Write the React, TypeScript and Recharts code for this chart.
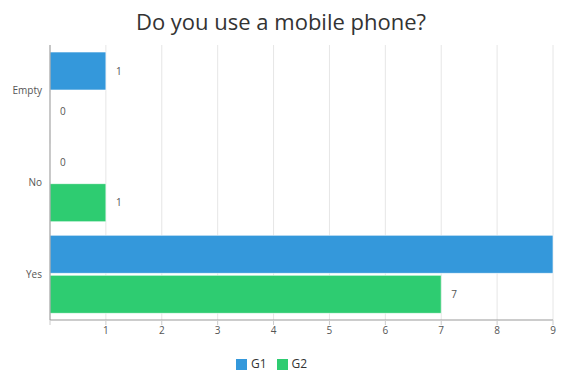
import { BarChart, Bar, XAxis, YAxis, CartesianGrid, Legend, LabelList } from 'recharts'

const categories = ['Empty', 'No', 'Yes']
const g1 = [1, 0, 9]
const g2 = [0, 1, 7]
const xTicks = [0, 1, 2, 3, 4, 5, 6, 7, 8, 9]

const data = categories.map((name, i) => ({ name, G1: g1[i], G2: g2[i] }))

const font = '"Open Sans", sans-serif'

export default function App() {
  return (
    <div style={{ position: 'absolute', left: 0, top: 0, width: 562, height: 372, background: '#fff', fontFamily: font }}>
      <div style={{ position: 'absolute', top: 6, left: 0, width: 562, textAlign: 'center', fontSize: 22, color: '#333' }}>
        Do you use a mobile phone?
      </div>
      <BarChart
        width={562} height={372}
        data={data}
        layout="vertical"
        margin={{ top: 45, right: 9, left: 0, bottom: 5 }}
        barSize={38} barGap={2}
      >
        <CartesianGrid horizontal={false} stroke="#e6e6e6" />
        <XAxis
          type="number" domain={[0, 9]} ticks={xTicks}
          tickFormatter={(v: number) => (v === 0 ? '' : String(v))}
          tick={{ fontSize: 10, fill: '#555', fontFamily: font }}
          stroke="#999" tickSize={5} tickLine={{ stroke: '#ccc' }}
        />
        <YAxis
          type="category" dataKey="name" width={50}
          tick={{ fontSize: 10, fill: '#555', fontFamily: font }}
          stroke="#999" tickLine={false}
        />
        <Legend
          verticalAlign="bottom" iconType="square" iconSize={11}
          formatter={(v: string) => <span style={{ color: '#333' }}>{v}</span>}
          wrapperStyle={{ fontSize: 12, fontFamily: font, bottom: 0 }}
        />
        <Bar dataKey="G1" fill="#3498db" stroke="rgba(255,255,255,0.6)" minPointSize={0.001} isAnimationActive={false}>
          <LabelList dataKey="G1" position="right" offset={10} fill="#555" fontSize={10} fontFamily={font} />
        </Bar>
        <Bar dataKey="G2" fill="#2ecc71" stroke="rgba(255,255,255,0.6)" minPointSize={0.001} isAnimationActive={false}>
          <LabelList dataKey="G2" position="right" offset={10} fill="#555" fontSize={10} fontFamily={font} />
        </Bar>
      </BarChart>
    </div>
  )
}
